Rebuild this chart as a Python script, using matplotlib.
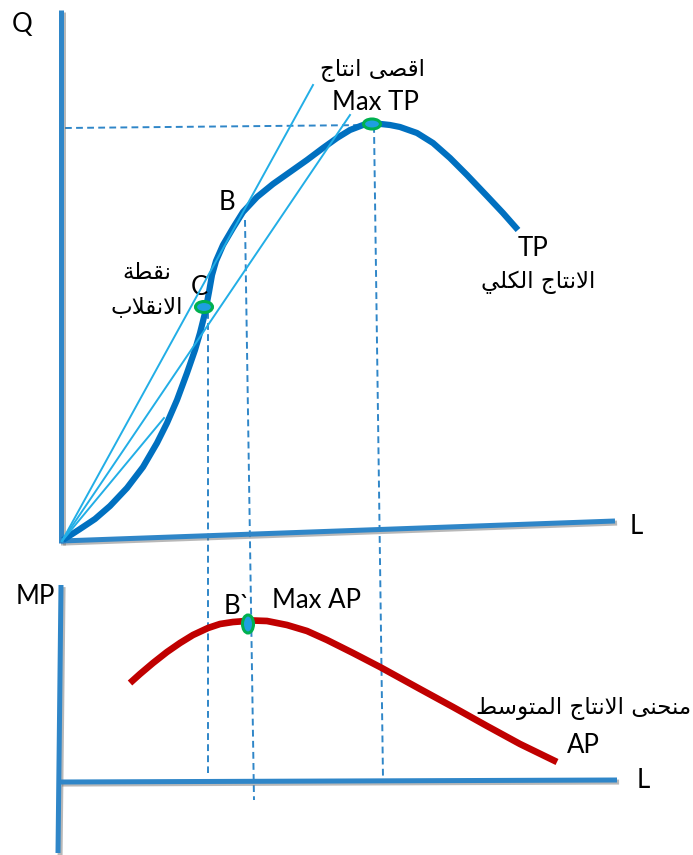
"""Total product / average product sketch (TP with tangents from origin, AP below).

Coordinates are read off the original drawing in pixel units (x right, y down),
so the single axes spans the whole figure with an inverted y range.
"""
import matplotlib
matplotlib.use("Agg")
import matplotlib.pyplot as plt
import matplotlib.patheffects as pe
from matplotlib.patches import Ellipse

plt.rcParams["font.family"] = ["Lato", "DejaVu Sans"]

# ---------------------------------------------------------------- data
# total product curve (upper panel)
TP_L = [63, 80, 95, 110, 127, 143, 157, 167, 177, 187, 195, 200, 205, 209,
        212, 216, 223, 233, 243, 257, 273, 290, 307, 323, 337, 350, 363, 372,
        390, 400, 417, 433, 450, 467, 487, 503, 518]
TP_Q = [540, 529, 519, 506, 488, 467, 443, 423, 400, 373, 350, 333, 313, 292,
        275, 261, 245, 228, 212, 197, 184, 172, 160, 148, 138, 130, 125, 123,
        125, 127, 133, 143, 158, 175, 196, 213, 230]

# rays from the origin (tangent through B, chord through C, short chord)
RAY_END_L = [313, 350, 164]
RAY_END_Q = [85, 115, 418]
ORIGIN = (62, 541)

# average product curve (lower panel)
AP_L = [130, 140, 153, 167, 180, 193, 208, 220, 233, 253, 267, 287, 307, 327,
        353, 380, 420, 453, 487, 520, 557]
AP_Y = [683, 674, 663, 652, 643, 635, 628, 624, 622, 620.5, 621, 625, 631,
        640, 653, 667, 689, 707, 726, 744, 762]

# special points: C (inflection), Max TP, B` (max AP)
PT_X = [204, 372, 248]
PT_Y = [307, 124, 624]
PT_W = [17, 17, 11]
PT_H = [11, 10, 18]

# dashed guides: (x0, y0, x1, y1)
GUIDES = [(65, 128, 370, 125),     # Max TP -> Q axis
          (374, 126, 383, 778),    # Max TP -> L
          (245, 220, 254, 800),    # B -> B`
          (208, 312, 208, 773)]    # C -> lower panel

# axes (hand drawn, slightly tilted)
AXES = [((61, 61), (10, 543)),      # Q
        ((61, 615), (541, 521)),    # L (top)
        ((61, 58), (585, 853)),     # MP
        ((60, 617), (782, 780))]    # L (bottom)

AX_BLUE = "#2F86C8"
TP_BLUE = "#0070C0"
RAY_BLUE = "#22AEE6"
AP_RED = "#C00000"


# matplotlib has no Arabic shaping: pick the joined forms by hand and flip
# the string into visual (left-to-right) order.
FORMS = {  # isolated, final, initial, medial (None -> does not join forward)
    "ا": (0xFE8D, 0xFE8E, None, None),
    "ب": (0xFE8F, 0xFE90, 0xFE91, 0xFE92),
    "ة": (0xFE93, 0xFE94, None, None),
    "ت": (0xFE95, 0xFE96, 0xFE97, 0xFE98),
    "ج": (0xFE9D, 0xFE9E, 0xFE9F, 0xFEA0),
    "ح": (0xFEA1, 0xFEA2, 0xFEA3, 0xFEA4),
    "س": (0xFEB1, 0xFEB2, 0xFEB3, 0xFEB4),
    "ص": (0xFEB9, 0xFEBA, 0xFEBB, 0xFEBC),
    "ط": (0xFEC1, 0xFEC2, 0xFEC3, 0xFEC4),
    "ق": (0xFED5, 0xFED6, 0xFED7, 0xFED8),
    "ك": (0xFED9, 0xFEDA, 0xFEDB, 0xFEDC),
    "ل": (0xFEDD, 0xFEDE, 0xFEDF, 0xFEE0),
    "م": (0xFEE1, 0xFEE2, 0xFEE3, 0xFEE4),
    "ن": (0xFEE5, 0xFEE6, 0xFEE7, 0xFEE8),
    "و": (0xFEED, 0xFEEE, None, None),
    "ى": (0xFEEF, 0xFEF0, None, None),
    "ي": (0xFEF1, 0xFEF2, 0xFEF3, 0xFEF4),
    "لا": (0xFEFB, 0xFEFC, None, None),
}


def ar(text):
    units, i = [], 0
    while i < len(text):
        step = 2 if text[i:i + 2] == "لا" else 1
        units.append(text[i:i + step]); i += step
    out = []
    for k, u in enumerate(units):
        if u not in FORMS:
            out.append(u); continue
        prev = units[k - 1] if k else None
        nxt = units[k + 1] if k + 1 < len(units) else None
        jp = prev in FORMS and FORMS[prev][2] is not None
        jn = nxt in FORMS and FORMS[u][2] is not None
        iso, fin, ini, med = FORMS[u]
        out.append(chr(med if jp and jn else fin if jp else ini if jn else iso))
    return "".join(reversed(out))


# ---------------------------------------------------------------- figure
fig = plt.figure(figsize=(6.93, 8.55), dpi=100)
ax = fig.add_axes([0, 0, 1, 1])
ax.set_xlim(0, 693)
ax.set_ylim(855, 0)
ax.axis("off")

shadow = [pe.SimpleLineShadow(offset=(1.5, -1.5), shadow_color="0.45", alpha=0.5),
          pe.Normal()]
for xs, ys in AXES:
    ax.plot(xs, ys, color=AX_BLUE, lw=3.6, solid_capstyle="butt",
            path_effects=shadow, zorder=2)

for x0, y0, x1, y1 in GUIDES:
    ax.plot([x0, x1], [y0, y1], color=AX_BLUE, lw=1.4, ls=(0, (3.5, 2.2)),
            zorder=1)

for lx, qy in zip(RAY_END_L, RAY_END_Q):
    ax.plot([ORIGIN[0], lx], [ORIGIN[1], qy], color=RAY_BLUE, lw=1.4, zorder=4)

ax.plot(TP_L, TP_Q, color=TP_BLUE, lw=4.5, solid_joinstyle="round",
        solid_capstyle="butt", zorder=3)
ax.plot(AP_L, AP_Y, color=AP_RED, lw=4.8, solid_joinstyle="round",
        solid_capstyle="butt", zorder=3)

for x, y, w, h in zip(PT_X, PT_Y, PT_W, PT_H):
    ax.add_patch(Ellipse((x, y), w, h, facecolor="#1E9FE0",
                         edgecolor="#00B050", lw=2.2, zorder=5))

LAT = dict(fontsize=18.5, ha="center", va="center", color="black")
ARB = dict(fontsize=16.5, ha="center", va="center", color="black",
           family=["DejaVu Sans"])
ax.text(22, 24, "Q", **LAT)
ax.text(636, 526, "L", **LAT)
ax.text(375, 103, "Max TP", **LAT)
ax.text(227, 202, "B", **LAT)
ax.text(199, 287, "C", **LAT)
ax.text(533, 248, "TP", **LAT)
ax.text(35, 596, "MP", **LAT)
ax.text(237, 606, "B`", **LAT)
ax.text(316, 600, "Max AP", **LAT)
ax.text(583, 745, "AP", **LAT)
ax.text(643, 780, "L", **LAT)

ax.text(373, 70, ar("اقصى انتاج"), **ARB)
ax.text(147, 272, ar("نقطة"), **ARB)
ax.text(147, 307, ar("الانقلاب"), **ARB)
ax.text(538, 282, ar("الانتاج الكلي"), **ARB)
ax.text(691, 708, ar("منحنى الانتاج المتوسط"),
        **{**ARB, "ha": "right"})

fig.savefig("out.png", dpi=100)
